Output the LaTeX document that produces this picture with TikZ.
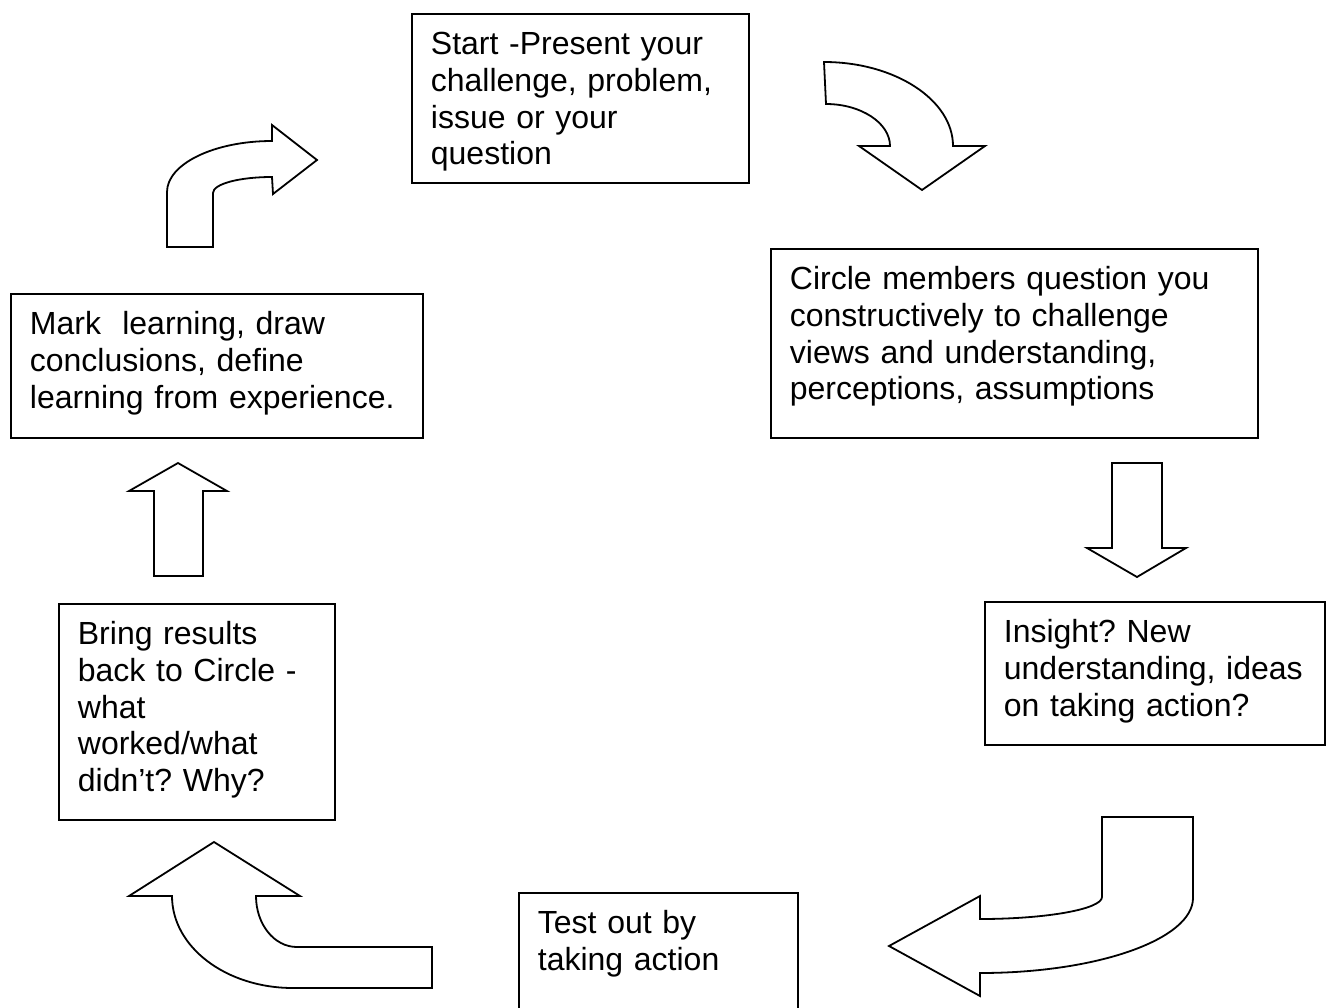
\documentclass[tikz,border=0pt]{standalone}
\usepackage{fontspec}
\setmainfont{Liberation Sans}
\frenchspacing
\begin{document}
\begin{tikzpicture}
[x=1pt,y=-1pt,
 box/.style={draw,line width=1.8pt,align=left,anchor=north west,
   inner xsep=19pt,inner ysep=0pt,text height=41pt,
   font=\fontsize{32}{36.6}\selectfont},
 blockarrow/.style={draw,line width=1.8pt,fill=white,line join=miter}]
\useasboundingbox (0,0) rectangle (1330,1007);

% the six steps
\node[box,text width=299,text depth=128] (start) at (411,13)
 {Start -Present your\\challenge, problem,\\issue or your\\question};
\node[box,text width=449,text depth=148] (members) at (770,248)
 {Circle members question you\\constructively to challenge\\views and understanding,\\perceptions, assumptions};
\node[box,text width=302,text depth=102] (insight) at (984,601)
 {Insight? New\\understanding, ideas\\on taking action?};
\node[box,text width=241,text depth=82] (action) at (518,892)
 {Test out by\\taking action};
\node[box,text width=238,text depth=175] (results) at (58,603)
 {Bring results\\back to Circle -\\what\\worked/what\\didn’t? Why?};
\node[box,text width=374,text depth=103] (learning) at (10,293)
 {Mark\ \ learning, draw\\conclusions, define\\learning from experience.};

% block arrows
\path[blockarrow] (824,62) -- (826,104) .. controls (861,104) and (890,123) .. (890,146)
 -- (859,146) -- (922,190) -- (985,146) -- (953,146)
 .. controls (953,100) and (895,62) .. (824,62) -- cycle;
\path[blockarrow] (1112,463) -- (1162,463) -- (1162,548) -- (1186,548)
 -- (1137,577) -- (1087,548) -- (1112,548) -- cycle;
\path[blockarrow] (1102,817) -- (1102,897) .. controls (1102,909) and (1047,919) .. (980,919)
 -- (980,896) -- (889,946) -- (980,996) -- (980,973)
 .. controls (1098,973) and (1193,939) .. (1193,898) -- (1193,817) -- cycle;
\path[blockarrow] (172,896) -- (129,896) -- (214,842) -- (300,896) -- (256,896)
 .. controls (256,924) and (274,947) .. (297,947) -- (432,947) -- (432,988) -- (293,988)
 .. controls (226,988) and (172,947) .. (172,896) -- cycle;
\path[blockarrow] (154,576) -- (154,491) -- (129,491) -- (178,463) -- (227,491)
 -- (203,491) -- (203,576) -- cycle;
\path[blockarrow] (167,247) -- (167,192) .. controls (167,164) and (214,141) .. (272,141)
 -- (272,125) -- (317,160) -- (273,194) -- (272,177)
 .. controls (239,177) and (213,184) .. (213,193) -- (213,247) -- cycle;
\end{tikzpicture}
\end{document}
